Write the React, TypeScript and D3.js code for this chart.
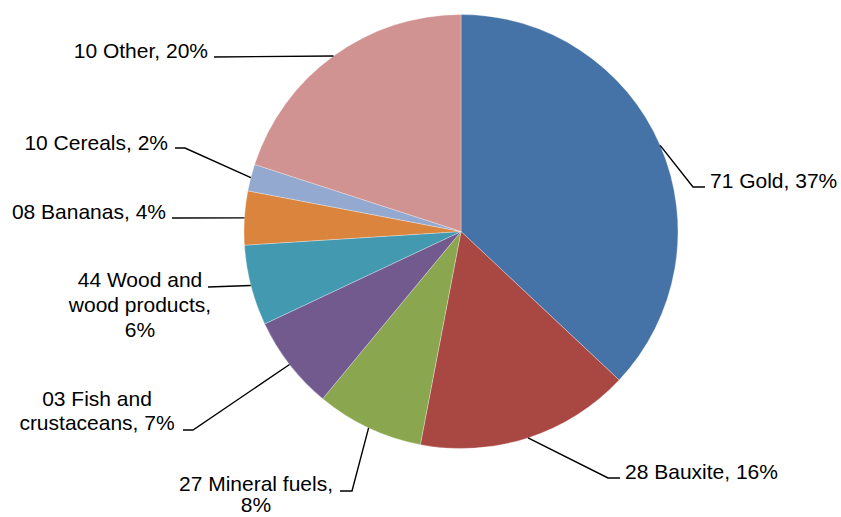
import React from "react";
import * as d3 from "d3";

const categories = [
  "71 Gold",
  "28 Bauxite",
  "27 Mineral fuels",
  "03 Fish and crustaceans",
  "44 Wood and wood products",
  "08 Bananas",
  "10 Cereals",
  "10 Other",
];
const values = [37, 16, 8, 7, 6, 4, 2, 20];
const labelLines = [
  ["71 Gold, 37%"],
  ["28 Bauxite, 16%"],
  ["27 Mineral fuels,", "8%"],
  ["03 Fish and", "crustaceans, 7%"],
  ["44 Wood and", "wood products,", "6%"],
  ["08 Bananas, 4%"],
  ["10 Cereals, 2%"],
  ["10 Other, 20%"],
];
const colors = [
  "#4673A7",
  "#A94743",
  "#8AA64E",
  "#725A8F",
  "#4299B0",
  "#DA843D",
  "#93A9CF",
  "#D19392",
];

// label layout: elbow point, leader end, text x, first baseline, line height, anchor
const layout = [
  { ex: 693, ey: 187, lx: 705, tx: 710, ty: 188, lh: 24.8, anchor: "start" },
  { ex: 608, ey: 478, lx: 620, tx: 625, ty: 479, lh: 24.8, anchor: "start" },
  { ex: 352, ey: 491, lx: 340, tx: 256, ty: 490.5, lh: 21.5, anchor: "middle" },
  { ex: 193, ey: 430, lx: 183, tx: 97, ty: 405.5, lh: 24.8, anchor: "middle" },
  { ex: 208, ey: 287, lx: 208, tx: 140, ty: 287, lh: 24.8, anchor: "middle" },
  { ex: 172, ey: 218, lx: 172, tx: 166, ty: 219, lh: 24.8, anchor: "end" },
  { ex: 185, ey: 148, lx: 175, tx: 168, ty: 150, lh: 24.8, anchor: "end" },
  { ex: 214, ey: 57, lx: 214, tx: 208, ty: 57.5, lh: 24.8, anchor: "end" },
];

const W = 841;
const H = 517;
const cx = 461;
const cy = 231.5;
const R = 217;

export default function App() {
  const pie = d3.pie<number>().sort(null).value((d) => d);
  const arcs = pie(values);
  const arc = d3.arc<d3.PieArcDatum<number>>().innerRadius(0).outerRadius(R);

  return (
    <svg
      width={W}
      height={H}
      style={{ position: "absolute", left: 0, top: 0, background: "#fff" }}
      fontFamily="'Liberation Sans', Arial, sans-serif"
    >
      <g transform={`translate(${cx},${cy})`}>
        {arcs.map((a, i) => (
          <path
            key={categories[i]}
            d={arc(a) || ""}
            fill={colors[i]}
            stroke="#ffffff"
            strokeOpacity={0.5}
            strokeWidth={0.6}
          />
        ))}
      </g>
      {arcs.map((a, i) => {
        const mid = (a.startAngle + a.endAngle) / 2;
        const px = cx + R * Math.sin(mid);
        const py = cy - R * Math.cos(mid);
        const L = layout[i];
        const pts = `${px},${py} ${L.ex},${L.ey} ${L.lx},${L.ey}`;
        return (
          <g key={"l" + i}>
            <polyline points={pts} fill="none" stroke="#000" strokeWidth={1.4} />
            <text
              x={L.tx}
              y={L.ty}
              fontSize={21}
              fill="#000"
              textAnchor={L.anchor as any}
            >
              {labelLines[i].map((t, j) => (
                <tspan key={j} x={L.tx} y={L.ty + j * L.lh}>
                  {t}
                </tspan>
              ))}
            </text>
          </g>
        );
      })}
    </svg>
  );
}
